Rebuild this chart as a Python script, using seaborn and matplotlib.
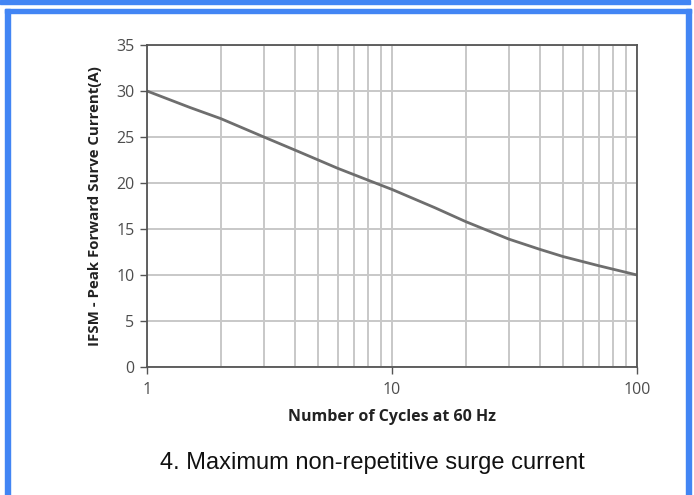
import numpy as np
import pandas as pd
import matplotlib as mpl
import matplotlib.pyplot as plt
import matplotlib.patches as mpatches
import seaborn as sns

# data
cycles = [1, 1.5, 2, 3, 4, 5, 6, 8, 10, 15, 20, 30, 40, 50, 70, 100]
ifsm = [30, 28.2, 27.0, 25.0, 23.6, 22.5, 21.6, 20.3, 19.3, 17.3, 15.8, 13.9, 12.8, 12.0, 11.0, 10]
y_ticks = [0, 5, 10, 15, 20, 25, 30, 35]
x_ticks = [1, 10, 100]

df = pd.DataFrame({'cycles': cycles, 'ifsm': ifsm})

sns.set_style('white')
plt.rcParams['font.family'] = ['Open Sans', 'DejaVu Sans']

fig = plt.figure(figsize=(6.94, 4.95), dpi=100)
ax = fig.add_axes([147 / 694, 1 - 367 / 495, 490 / 694, 322 / 495])

ax.set_xscale('log')
ax.set_xlim(1, 100)
ax.set_ylim(0, 35)

# grid
ax.grid(True, which='major', color='#c8c8c8', linewidth=1.4)
ax.grid(True, which='minor', axis='x', color='#c8c8c8', linewidth=1.4)
ax.set_axisbelow(True)

sns.lineplot(data=df, x='cycles', y='ifsm', ax=ax, color='#6e6e6e', linewidth=2)

ax.set_xticks(x_ticks)
ax.set_xticklabels([str(t) for t in x_ticks])
ax.xaxis.set_minor_formatter(mpl.ticker.NullFormatter())
ax.set_yticks(y_ticks)
ax.tick_params(axis='both', which='major', labelsize=11.5, labelcolor='#4d4d4d',
               color='#555555', length=5, width=1, direction='out',
               bottom=True, left=True)
ax.tick_params(axis='x', which='minor', length=0)
ax.tick_params(axis='x', pad=6)
ax.tick_params(axis='y', pad=4)

for s in ax.spines.values():
    s.set_color('#555555')
    s.set_linewidth(1.3)

ax.set_xlabel('Number of Cycles at 60 Hz', fontsize=11.5, fontweight='bold', color='#222222', labelpad=8)
ax.set_ylabel('IFSM - Peak Forward Surve Current(A)', fontsize=10.8, fontweight='bold', color='#222222', labelpad=10)

# caption
fig.text(372 / 694, 1 - 463 / 495, '4. Maximum non-repetitive surge current',
         ha='center', va='center', fontsize=17, color='#111111', family='Liberation Sans')

# blue frame
blue = '#4285f4'
fig.patches.append(mpatches.Rectangle((0, 1 - 4 / 495), 690 / 694, 4 / 495,
                                      transform=fig.transFigure, color=blue, zorder=0))
fig.patches.append(mpatches.Rectangle((5 / 694, 0), 5 / 694, 1 - 9 / 495,
                                      transform=fig.transFigure, color=blue, zorder=0))
fig.patches.append(mpatches.Rectangle((686 / 694, 0), 5 / 694, 1 - 9 / 495,
                                      transform=fig.transFigure, color=blue, zorder=0))
fig.patches.append(mpatches.Rectangle((5 / 694, 1 - 13 / 495), 686 / 694, 4 / 495,
                                      transform=fig.transFigure, color=blue, zorder=0))

fig.savefig('out.png', dpi=100)
